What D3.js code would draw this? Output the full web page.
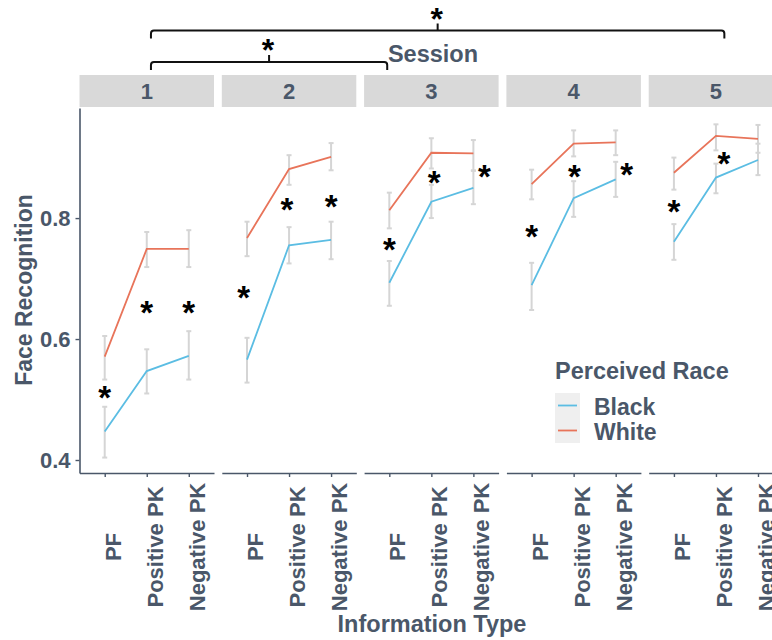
<!DOCTYPE html>
<html><head><meta charset="utf-8">
<script src="https://cdn.jsdelivr.net/npm/d3@7/dist/d3.min.js"></script>
<style>
html,body{margin:0;padding:0;background:#fff;}
svg text{font-family:"Liberation Sans",Arial,sans-serif;font-weight:bold;}
</style>
</head><body>
<svg id="chart" width="772" height="640"></svg>
<script>
const sessions = ["1","2","3","4","5"];
const infoTypes = ["PF","Positive PK","Negative PK"];
const races = ["Black","White"];
const yTicks = [0.4, 0.6, 0.8];

const blackMean = [[0.447,0.547,0.572],[0.566,0.755,0.764],[0.693,0.827,0.850],[0.689,0.833,0.864],[0.761,0.867,0.896]];
const blackLow  = [[0.404,0.510,0.533],[0.528,0.725,0.732],[0.655,0.800,0.823],[0.648,0.802,0.835],[0.731,0.841,0.871]];
const blackHigh = [[0.488,0.583,0.613],[0.602,0.785,0.794],[0.729,0.855,0.878],[0.726,0.861,0.893],[0.790,0.890,0.923]];

const whiteMean = [[0.571,0.749,0.749],[0.767,0.881,0.901],[0.813,0.908,0.907],[0.856,0.923,0.925],[0.875,0.936,0.931]];
const whiteLow  = [[0.533,0.719,0.719],[0.737,0.855,0.879],[0.783,0.882,0.879],[0.831,0.902,0.904],[0.847,0.912,0.908]];
const whiteHigh = [[0.605,0.777,0.780],[0.794,0.904,0.924],[0.842,0.932,0.929],[0.880,0.945,0.945],[0.900,0.955,0.954]];

// significance stars inside panels: session, info type, value, nudge (in category steps)
const starSession = ["1","1","1","2","2","2","3","3","3","4","4","4","5","5"];
const starType    = ["PF","Positive PK","Negative PK","PF","Positive PK","Negative PK","PF","Positive PK","Negative PK","PF","Positive PK","Negative PK","PF","Positive PK"];
const starValue   = [0.513,0.653,0.653,0.677,0.823,0.828,0.757,0.868,0.878,0.778,0.878,0.881,0.820,0.900];
const starNudge   = [0,0,0,-0.08,-0.05,0,0,0.07,0.26,0,0.02,0.26,0,0.19];

// session comparison brackets: from (session, position) to (session, position)
const bracketFrom = [["1",1.1],["1",1.1]];
const bracketTo   = [["3",-0.05],["5",1.2]];

const textCol = "#4a5769";
const colors = {Black:"#5bbde3", White:"#e8745a"};
const errCol = "#d5d5d5";

const svg = d3.select("#chart");

const panelTop = 108, panelBottom = 473;
const fx = d3.scaleBand().domain(sessions).range([79.5, 783.2]).paddingInner(0.0548).paddingOuter(0);
const x = d3.scalePoint().domain(infoTypes).range([0, fx.bandwidth()]).padding(0.6);
const y = d3.scaleLinear().domain([0.3785, 0.982]).range([panelBottom, panelTop]);

const meanOf = {Black: blackMean, White: whiteMean};
const lowOf = {Black: blackLow, White: whiteLow};
const highOf = {Black: blackHigh, White: whiteHigh};

// strips
const stripTop = 75, stripH = 32;
sessions.forEach((s, si) => {
  const px = fx(s);
  svg.append("rect").attr("x", px).attr("y", stripTop).attr("width", fx.bandwidth()).attr("height", stripH).attr("fill", "#d9d9d9");
  svg.append("text").attr("x", px + fx.bandwidth()/2).attr("y", stripTop + stripH/2 + 8)
    .attr("text-anchor","middle").attr("font-size", 22).attr("fill", textCol).text(s);

  const g = svg.append("g").attr("transform", `translate(${px},0)`);
  // x axis
  const xa = g.append("g").attr("transform", `translate(0,${panelBottom})`)
    .call(d3.axisBottom(x).tickSize(4).tickSizeOuter(0).tickFormat(""));
  xa.select(".domain").attr("stroke", textCol).attr("stroke-width", 1.6);
  xa.selectAll(".tick line").attr("stroke", textCol).attr("stroke-width", 1.4);
  infoTypes.forEach(t => {
    g.append("text").attr("transform", `translate(${x(t)+16},547) rotate(-90)`)
      .attr("text-anchor","middle").attr("font-size", 22).attr("fill", textCol).text(t);
  });

  // error bars
  races.forEach(r => {
    infoTypes.forEach((t, ti) => {
      const cx = x(t), lo = y(lowOf[r][si][ti]), hi = y(highOf[r][si][ti]);
      g.append("line").attr("x1", cx).attr("x2", cx).attr("y1", lo).attr("y2", hi).attr("stroke", errCol).attr("stroke-width", 2);
      g.append("line").attr("x1", cx-2.5).attr("x2", cx+2.5).attr("y1", lo).attr("y2", lo).attr("stroke", errCol).attr("stroke-width", 2);
      g.append("line").attr("x1", cx-2.5).attr("x2", cx+2.5).attr("y1", hi).attr("y2", hi).attr("stroke", errCol).attr("stroke-width", 2);
    });
  });
  // lines
  races.forEach(r => {
    const line = d3.line().x((d,i) => x(infoTypes[i])).y(d => y(d));
    g.append("path").attr("d", line(meanOf[r][si])).attr("fill","none").attr("stroke", colors[r]).attr("stroke-width", 1.8);
  });
});

// stars in panels
const step = x.step();
starValue.forEach((v, i) => {
  const cx = fx(starSession[i]) + x(starType[i]) + starNudge[i]*step;
  const cy = y(v);
  svg.append("text").attr("x", cx).attr("y", cy + 17).attr("text-anchor","middle")
    .attr("font-size", 33).attr("fill", "#000").text("*");
});

// y axis
const ya = svg.append("g").attr("transform", `translate(${fx(sessions[0])},0)`)
  .call(d3.axisLeft(y).tickValues(yTicks).tickSize(4).tickSizeOuter(0).tickFormat(d3.format(".1f")));
ya.select(".domain").attr("stroke", textCol).attr("stroke-width", 1.6);
ya.selectAll(".tick line").attr("stroke", textCol).attr("stroke-width", 1.4);
ya.selectAll(".tick text").attr("font-size", 22).attr("fill", textCol).attr("font-family", "Liberation Sans, Arial, sans-serif").attr("font-weight","bold").attr("x", -9).attr("dy", "0.35em");

// axis titles
svg.append("text").attr("transform", "translate(32,290) rotate(-90)").attr("text-anchor","middle")
  .attr("font-size", 23).attr("fill", textCol).text("Face Recognition");
svg.append("text").attr("x", 432).attr("y", 632).attr("text-anchor","middle")
  .attr("font-size", 23.5).attr("fill", textCol).text("Information Type");
svg.append("text").attr("x", 433).attr("y", 62).attr("text-anchor","middle")
  .attr("font-size", 23.5).attr("fill", textCol).text("Session");

// brackets
const bracketY = [62, 30.5];
bracketFrom.forEach((f, i) => {
  const x1 = fx(f[0]) + x(infoTypes[0]) + f[1]*step;
  const x2 = fx(bracketTo[i][0]) + x(infoTypes[0]) + bracketTo[i][1]*step;
  const by = bracketY[i], xm = (x1 + x2)/2;
  const p = d3.path();
  p.moveTo(x1, by + 8); p.lineTo(x1, by + 3); p.quadraticCurveTo(x1, by, x1 + 3, by);
  p.lineTo(x2 - 3, by); p.quadraticCurveTo(x2, by, x2, by + 3); p.lineTo(x2, by + 8);
  p.moveTo(xm, by); p.lineTo(xm, by - 7);
  svg.append("path").attr("d", p.toString()).attr("fill","none").attr("stroke","#111").attr("stroke-width", 2);
  svg.append("text").attr("x", xm - 1).attr("y", by - 1).attr("text-anchor","middle")
    .attr("font-size", 32).attr("fill","#000").text("*");
});

// legend
const lg = svg.append("g").attr("transform", "translate(555,0)");
lg.append("text").attr("x", 0).attr("y", 379).attr("font-size", 23.5).attr("fill", textCol).text("Perceived Race");
races.forEach((r, i) => {
  const ky = 393 + i*25;
  lg.append("rect").attr("x", 0).attr("y", ky).attr("width", 25).attr("height", 25).attr("fill", "#efefef");
  lg.append("line").attr("x1", 3).attr("x2", 22).attr("y1", ky + 12.5).attr("y2", ky + 12.5).attr("stroke", colors[r]).attr("stroke-width", 1.8);
  lg.append("text").attr("x", 39).attr("y", ky + 12.5 + 9).attr("font-size", 23).attr("fill", textCol).text(r);
});
</script>
</body></html>
